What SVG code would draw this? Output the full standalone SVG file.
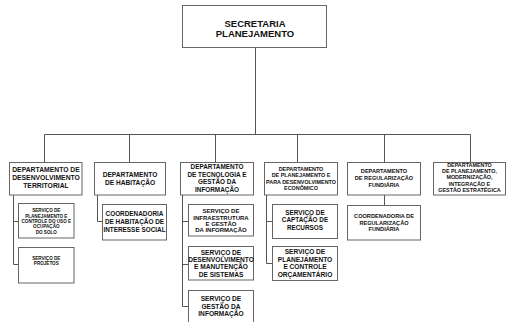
<svg xmlns="http://www.w3.org/2000/svg" width="507" height="322" viewBox="0 0 507 322">
  <style>
    .box { fill: #ffffff; stroke: #666666; stroke-width: 1; }
    .wire { fill: none; stroke: #555555; stroke-width: 1; }
    text { font-family: "Liberation Sans", Arial, sans-serif; font-weight: bold; fill: #111111; text-anchor: middle; }
    .t95 { font-size: 9.5px; }
    .t68 { font-size: 6.8px; }
    .t66 { font-size: 6.6px; }
    .t64 { font-size: 6.4px; }
    .t60 { font-size: 6px; }
    .t56 { font-size: 5.6px; }
    .t54 { font-size: 5.4px; }
    .t46 { font-size: 4.6px; }
  </style>
  <rect width="507" height="322" fill="#ffffff"/>

  <g id="connectors">
    <path class="wire" d="M255.5 47.5 V134.5 M44.5 134.5 H470.5 M44.5 134.5 V162.5 M129.5 134.5 V162.5 M215.5 134.5 V162.5 M297.5 134.5 V162.5 M384.5 134.5 V162.5 M470.5 134.5 V162.5"/>
    <path class="wire" d="M13.5 195 V264.5 M13.5 221.5 H18.5 M13.5 264.5 H18.5"/>
    <path class="wire" d="M97.5 195 V221.5 H102.5"/>
    <path class="wire" d="M182.5 195 V306.5 M182.5 221.5 H188.5 M182.5 264.5 H188.5 M182.5 306.5 H188.5"/>
    <path class="wire" d="M266.5 195 V263.5 M266.5 221.5 H272.5 M266.5 263.5 H272.5"/>
    <path class="wire" d="M384.5 195 V205.5"/>
  </g>

  <g id="secretaria">
    <rect class="box" x="182.5" y="5.5" width="144" height="42"/>
    <text class="t95" x="255" y="26.5">SECRETARIA</text>
    <text class="t95" x="255" y="36.5">PLANEJAMENTO</text>
  </g>

  <g id="dep-territorial">
    <rect class="box" x="9.5" y="162.5" width="72.5" height="32.5"/>
    <text class="t68" x="46" y="172.4">DEPARTAMENTO DE</text>
    <text class="t68" x="46" y="180.2">DESENVOLVIMENTO</text>
    <text class="t68" x="46" y="188">TERRITORIAL</text>
  </g>
  <g id="serv-uso-solo">
    <rect class="box" x="18.5" y="203.5" width="55.5" height="34.5"/>
    <text class="t46" x="46.3" y="212.3">SERVIÇO DE</text>
    <text class="t46" x="46.3" y="217.6">PLANEJAMENTO E</text>
    <text class="t46" x="46.3" y="222.9">CONTROLE DO USO E</text>
    <text class="t46" x="46.3" y="228.2">OCUPAÇÃO</text>
    <text class="t46" x="46.3" y="233.5">DO SOLO</text>
  </g>
  <g id="serv-projetos">
    <rect class="box" x="18.5" y="247.5" width="55.5" height="35.5"/>
    <text class="t46" x="46.3" y="260">SERVIÇO DE</text>
    <text class="t46" x="46.3" y="265.3">PROJETOS</text>
  </g>

  <g id="dep-habitacao">
    <rect class="box" x="94.5" y="162.5" width="71" height="32.5"/>
    <text class="t66" x="130" y="176.6">DEPARTAMENTO</text>
    <text class="t66" x="130" y="185">DE HABITAÇÃO</text>
  </g>
  <g id="coord-habitacao">
    <rect class="box" x="102.5" y="204.5" width="64" height="35.5"/>
    <text class="t64" x="134.5" y="215.5">COORDENADORIA</text>
    <text class="t64" x="134.5" y="223.5">DE HABITAÇÃO DE</text>
    <text class="t64" x="134.5" y="231.5">INTERESSE SOCIAL</text>
  </g>

  <g id="dep-tecnologia">
    <rect class="box" x="180.5" y="162.5" width="73" height="32.5"/>
    <text class="t64" x="217" y="169.2">DEPARTAMENTO</text>
    <text class="t64" x="217" y="176.8">DE TECNOLOGIA E</text>
    <text class="t64" x="217" y="184.4">GESTÃO DA</text>
    <text class="t64" x="217" y="192">INFORMAÇÃO</text>
  </g>
  <g id="serv-infraestrutura">
    <rect class="box" x="188.5" y="204.5" width="65" height="31.5"/>
    <text class="t60" x="221" y="213.1">SERVIÇO DE</text>
    <text class="t60" x="221" y="219.5">INFRAESTRUTURA</text>
    <text class="t60" x="221" y="225.9">E GESTÃO</text>
    <text class="t60" x="221" y="232.3">DA INFORMAÇÃO</text>
  </g>
  <g id="serv-sistemas">
    <rect class="box" x="188.5" y="246.5" width="65" height="33.5"/>
    <text class="t66" x="221" y="254.6">SERVIÇO DE</text>
    <text class="t66" x="221" y="262">DESENVOLVIMENTO</text>
    <text class="t66" x="221" y="269.4">E MANUTENÇÃO</text>
    <text class="t66" x="221" y="276.8">DE SISTEMAS</text>
  </g>
  <g id="serv-gestao-informacao">
    <rect class="box" x="188.5" y="290.5" width="65" height="40"/>
    <text class="t66" x="221" y="301.3">SERVIÇO DE</text>
    <text class="t66" x="221" y="308.8">GESTÃO DA</text>
    <text class="t66" x="221" y="316.3">INFORMAÇÃO</text>
  </g>

  <g id="dep-economico">
    <rect class="box" x="264.5" y="162.5" width="73" height="32.5"/>
    <text class="t54" x="301" y="170.9">DEPARTAMENTO</text>
    <text class="t54" x="301" y="177.2">DE PLANEJAMENTO E</text>
    <text class="t54" x="301" y="183.5">PARA DESENVOLVIMENTO</text>
    <text class="t54" x="301" y="189.8">ECONÔMICO</text>
  </g>
  <g id="serv-captacao">
    <rect class="box" x="272.5" y="204.5" width="65" height="34"/>
    <text class="t64" x="305" y="214.6">SERVIÇO DE</text>
    <text class="t64" x="305" y="222.1">CAPTAÇÃO DE</text>
    <text class="t64" x="305" y="229.6">RECURSOS</text>
  </g>
  <g id="serv-orcamentario">
    <rect class="box" x="272.5" y="246.5" width="65" height="34"/>
    <text class="t66" x="305" y="254">SERVIÇO DE</text>
    <text class="t66" x="305" y="261.5">PLANEJAMENTO</text>
    <text class="t66" x="305" y="269">E CONTROLE</text>
    <text class="t66" x="305" y="276.5">ORÇAMENTÁRIO</text>
  </g>

  <g id="dep-regularizacao">
    <rect class="box" x="347.5" y="162.5" width="73" height="32.5"/>
    <text class="t56" x="384" y="172.7">DEPARTAMENTO</text>
    <text class="t56" x="384" y="179.7">DE REGULARIZAÇÃO</text>
    <text class="t56" x="384" y="186.7">FUNDIÁRIA</text>
  </g>
  <g id="coord-regularizacao">
    <rect class="box" x="347.5" y="205.5" width="73" height="34.5"/>
    <text class="t56" x="384" y="218">COORDENADORIA DE</text>
    <text class="t56" x="384" y="224.5">REGULARIZAÇÃO</text>
    <text class="t56" x="384" y="231">FUNDIÁRIA</text>
  </g>

  <g id="dep-estrategica">
    <rect class="box" x="433.5" y="162.5" width="72" height="32.5"/>
    <text class="t54" x="469.5" y="167">DEPARTAMENTO</text>
    <text class="t54" x="469.5" y="173.2">DE PLANEJAMENTO,</text>
    <text class="t54" x="469.5" y="179.4">MODERNIZAÇÃO,</text>
    <text class="t54" x="469.5" y="185.6">INTEGRAÇÃO E</text>
    <text class="t54" x="469.5" y="191.8">GESTÃO ESTRATÉGICA</text>
  </g>
</svg>
